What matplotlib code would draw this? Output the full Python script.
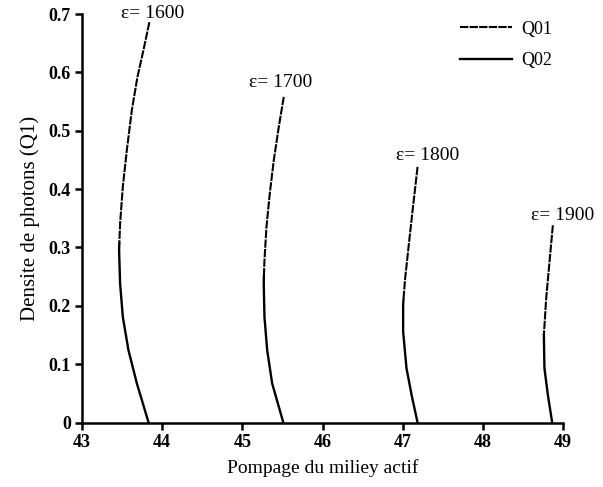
import numpy as np
import matplotlib.pyplot as plt
from matplotlib.ticker import FuncFormatter

# gain parameter for each curve
epsilons = [1600, 1700, 1800, 1900]

# Q01 branch (upper part of each curve)
q01_x = [
    [43.84, 43.766, 43.691, 43.621, 43.559, 43.509, 43.475, 43.465],
    [45.516, 45.454, 45.391, 45.341, 45.30, 45.275, 45.268],
    [47.184, 47.129, 47.079, 47.029, 47.008],
    [48.871, 48.829, 48.788, 48.759],
]
q01_y = [
    [0.686, 0.638, 0.592, 0.535, 0.467, 0.404, 0.341, 0.307],
    [0.558, 0.507, 0.449, 0.392, 0.335, 0.278, 0.25],
    [0.438, 0.372, 0.310, 0.247, 0.21],
    [0.338, 0.275, 0.213, 0.150],
]

# Q02 branch (lower part of each curve)
q02_x = [
    [43.465, 43.4625, 43.475, 43.509, 43.579, 43.684, 43.83],
    [45.268, 45.266, 45.275, 45.309, 45.371, 45.51],
    [47.008, 47.004, 47.004, 47.046, 47.11, 47.184],
    [48.759, 48.766, 48.809, 48.8625],
]
q02_y = [
    [0.307, 0.295, 0.238, 0.181, 0.124, 0.067, 0.0],
    [0.25, 0.238, 0.181, 0.124, 0.067, 0.0],
    [0.21, 0.201, 0.156, 0.093, 0.047, 0.0],
    [0.150, 0.093, 0.047, 0.0],
]

xticks = [43, 44, 45, 46, 47, 48, 49]
yticks = [0, 0.1, 0.2, 0.3, 0.4, 0.5, 0.6, 0.7]

# offsets (points) of the epsilon labels from the top of each curve
label_offsets = [(2, 0), (-2, 4), (7, 2), (7, 1)]

plt.rcParams['font.family'] = ['Liberation Serif', 'DejaVu Serif']

fig = plt.figure(figsize=(6.03, 4.87), dpi=100)
ax = fig.add_axes([0.136, 0.1324, 0.798, 0.8388])

for i, eps in enumerate(epsilons):
    ax.plot(q01_x[i], q01_y[i], color='black', linewidth=1.5,
            dashes=(4, 0.6), label='Q01' if i == 0 else None)
    ax.plot(q02_x[i], q02_y[i], color='black', linewidth=1.7,
            label='Q02' if i == 0 else None)
    dx, dy = label_offsets[i]
    ax.annotate(f'ε= {eps}', (q01_x[i][0], q01_y[i][0]),
                xytext=(dx, dy), textcoords='offset points',
                ha='center', va='bottom', fontsize=14, annotation_clip=False)

ax.set_xlim(43, 49)
ax.set_ylim(0, 0.7)
ax.set_xticks(xticks)
ax.set_yticks(yticks)
ax.yaxis.set_major_formatter(FuncFormatter(lambda v, p: '0' if v == 0 else f'{v:.1f}'))

for side in ['top', 'right']:
    ax.spines[side].set_visible(False)
for side in ['left', 'bottom']:
    ax.spines[side].set_linewidth(1.8)

ax.tick_params(direction='out', length=5, width=1.8, labelsize=13, pad=3)
for lbl in ax.get_xticklabels() + ax.get_yticklabels():
    lbl.set_fontweight('bold')

ax.set_xlabel('Pompage du miliey actif', fontsize=14, labelpad=6)
ax.set_ylabel('Densite de photons (Q1)', fontsize=15, labelpad=6)

leg = ax.legend(loc='upper right', bbox_to_anchor=(1.0, 1.01), frameon=False,
                fontsize=13, handlelength=2.9, handletextpad=0.5,
                labelspacing=0.8, borderaxespad=0.2)

fig.savefig('out.png', dpi=100)
